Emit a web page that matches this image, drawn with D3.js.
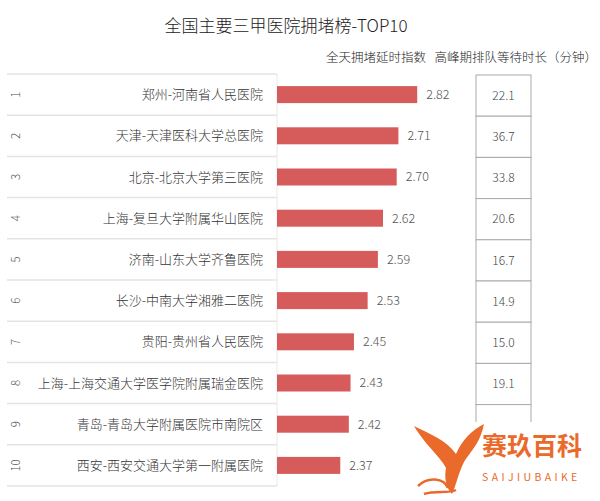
<!DOCTYPE html>
<html><head><meta charset="utf-8">
<script src="https://cdn.jsdelivr.net/npm/d3@7"></script>
<style>
html,body{margin:0;padding:0;background:#fff;}
svg{display:block;font-family:"Noto Sans CJK SC","Noto Sans",sans-serif;}
</style></head>
<body>
<svg id="chart" width="600" height="501"></svg>
<script>
const title = "全国主要三甲医院拥堵榜-TOP10";
const header1 = "全天拥堵延时指数";
const header2 = "高峰期排队等待时长（分钟）";
const ranks = ["1","2","3","4","5","6","7","8","9","10"];
const hospitals = ["郑州-河南省人民医院","天津-天津医科大学总医院","北京-北京大学第三医院","上海-复旦大学附属华山医院","济南-山东大学齐鲁医院","长沙-中南大学湘雅二医院","贵阳-贵州省人民医院","上海-上海交通大学医学院附属瑞金医院","青岛-青岛大学附属医院市南院区","西安-西安交通大学第一附属医院"];
const delayIndex = [2.82,2.71,2.70,2.62,2.59,2.53,2.45,2.43,2.42,2.37];
const waitMinutes = [22.1,36.7,33.8,20.6,16.7,14.9,15.0,19.1,null,null];
const xDomain = [2, 3];

const svg = d3.select("#chart");
const y = d3.scaleBand().domain(ranks).range([74, 486]).padding(0);
const x = d3.scaleLinear().domain(xDomain).range([277, 448]);
const data = ranks.map((r,i)=>({rank:r,name:hospitals[i],v:delayIndex[i],w:waitMinutes[i]}));

svg.append("text").attr("x",286).attr("y",32).attr("text-anchor","middle")
  .attr("font-size",17).attr("font-weight",300).attr("fill","#222").text(title);
svg.append("text").attr("x",426).attr("y",62).attr("text-anchor","end")
  .attr("font-size",12.5).attr("font-weight",300).attr("fill","#222").text(header1);
svg.append("text").attr("x",597).attr("y",62).attr("text-anchor","end")
  .attr("font-size",12.5).attr("font-weight",300).attr("fill","#222").text(header2);

// left table lines
const lines = svg.append("g");
lines.selectAll("line.h").data(ranks.concat(["end"])).join("line")
  .attr("x1",7).attr("x2",277)
  .attr("y1",(d,i)=> i<ranks.length ? y(d) : y.range()[1])
  .attr("y2",(d,i)=> i<ranks.length ? y(d) : y.range()[1])
  .attr("stroke","#e4e4e4").attr("stroke-width",1.5);
lines.append("line").attr("x1",277).attr("x2",277).attr("y1",y.range()[0]).attr("y2",y.range()[1])
  .attr("stroke","#e8e8e8").attr("stroke-width",1);

const rows = svg.append("g").selectAll("g").data(data).join("g")
  .attr("transform",d=>`translate(0,${y(d.rank)+y.bandwidth()/2})`);

rows.append("text").attr("transform","translate(16,0) rotate(-90)")
  .attr("text-anchor","middle").attr("dy","0.35em")
  .attr("font-size",11.5).attr("font-weight",300).attr("fill","#555").text(d=>d.rank);
rows.append("text").attr("x",263).attr("dy","0.35em").attr("text-anchor","end")
  .attr("font-size",13).attr("font-weight",300).attr("fill","#333").text(d=>d.name);
rows.append("rect").attr("x",x(xDomain[0])).attr("y",-8.5)
  .attr("width",d=>x(d.v)-x(xDomain[0])).attr("height",17).attr("fill","#d65b5b");
rows.append("text").attr("x",d=>x(d.v)+9).attr("dy","0.35em")
  .attr("font-size",12.5).attr("font-weight",300).attr("fill","#555").text(d=>d.v.toFixed(2));

// right table
const rt = svg.append("g");
const rx0 = 476, rx1 = 531;
rt.selectAll("rect").data(data).join("rect")
  .attr("x",rx0).attr("y",d=>y(d.rank)+1).attr("width",rx1-rx0).attr("height",y.bandwidth())
  .attr("fill","#fff").attr("stroke","#aaa").attr("stroke-width",1);
rt.selectAll("text").data(data.filter(d=>d.w!=null)).join("text")
  .attr("x",(rx0+rx1)/2).attr("y",d=>y(d.rank)+y.bandwidth()/2+1).attr("dy","0.35em")
  .attr("text-anchor","middle").attr("font-size",12).attr("font-weight",300).attr("fill","#444").text(d=>d.w.toFixed(1));

// watermark
const wm = svg.append("g");
wm.append("rect").attr("x",412).attr("y",422).attr("width",188).attr("height",79).attr("fill","#fff");
const orange = "#ea6a2c";
wm.append("path").attr("fill",orange)
  .attr("d","M414,426 C430,434 446,440 456,454 C462,440 472,430 484,424 C480,444 470,452 464,462 C458,474 456,486 452,494 C446,488 444,478 446,468 C440,456 426,446 414,426 Z");
wm.append("path").attr("fill","none").attr("stroke",orange).attr("stroke-width",2.5)
  .attr("d","M418,486 C428,476 444,478 448,488 M424,494 C436,490 448,494 456,490");
wm.append("text").attr("x",482).attr("y",455).attr("font-size",25).attr("font-weight","bold")
  .attr("fill",orange).text("赛玖百科");
wm.append("text").attr("x",482).attr("y",481).attr("font-size",10.5).attr("letter-spacing",3.4)
  .attr("fill",orange).text("SAIJIUBAIKE");
</script>
</body></html>
